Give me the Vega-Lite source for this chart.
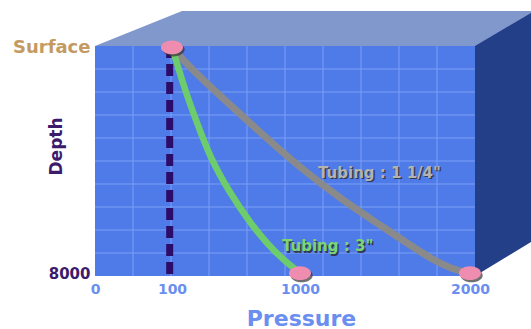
{
  "$schema": "https://vega.github.io/schema/vega-lite/v6.json",
  "autosize": "none",
  "width": 380,
  "height": 230,
  "padding": {"left": 95, "top": 46, "right": 56, "bottom": 53},
  "background": "white",
  "config": {"view": {"stroke": null}, "font": "DejaVu Sans"},
  "datasets": {
    "topface": [
      {"gx": 0, "gy": 0, "gy2": 0},
      {"gx": 2.29, "gy": -1.52, "gy2": 0},
      {"gx": 11.6, "gy": -1.52, "gy2": 0}
    ],
    "rightface": [
      {"gx": 10, "gy": 0, "gy2": 10},
      {"gx": 11.6, "gy": -1.56, "gy2": 8.39}
    ],
    "front": [{"gx": 0, "gx2": 10, "gy": 0, "gy2": 10}],
    "vgrid": [{"gx": 1}, {"gx": 2}, {"gx": 3}, {"gx": 4}, {"gx": 5}, {"gx": 6}, {"gx": 7}, {"gx": 8}, {"gx": 9}],
    "hgrid": [{"gy": 1}, {"gy": 2}, {"gy": 3}, {"gy": 4}, {"gy": 5}, {"gy": 6}, {"gy": 7}, {"gy": 8}, {"gy": 9}],
    "baseline": [{"pressure": 97}],
    "curves": [
      {"tubing": "1 1/4", "pressure": 100, "depth": 0},
      {"tubing": "1 1/4", "pressure": 227, "depth": 730},
      {"tubing": "1 1/4", "pressure": 487, "depth": 1934},
      {"tubing": "1 1/4", "pressure": 740, "depth": 3104},
      {"tubing": "1 1/4", "pressure": 979, "depth": 4167},
      {"tubing": "1 1/4", "pressure": 1247, "depth": 5407},
      {"tubing": "1 1/4", "pressure": 1488, "depth": 6364},
      {"tubing": "1 1/4", "pressure": 1647, "depth": 7002},
      {"tubing": "1 1/4", "pressure": 1782, "depth": 7533},
      {"tubing": "1 1/4", "pressure": 1894, "depth": 7852},
      {"tubing": "1 1/4", "pressure": 2000, "depth": 8000},
      {"tubing": "3", "pressure": 100, "depth": 0},
      {"tubing": "3", "pressure": 128, "depth": 446},
      {"tubing": "3", "pressure": 191, "depth": 1509},
      {"tubing": "3", "pressure": 276, "depth": 2678},
      {"tubing": "3", "pressure": 367, "depth": 3883},
      {"tubing": "3", "pressure": 494, "depth": 5053},
      {"tubing": "3", "pressure": 648, "depth": 6222},
      {"tubing": "3", "pressure": 824, "depth": 7285},
      {"tubing": "3", "pressure": 1000, "depth": 8000}
    ],
    "dots": [
      {"pressure": 100, "depth": 0},
      {"pressure": 1000, "depth": 8000},
      {"pressure": 2000, "depth": 8000}
    ],
    "labels": [
      {"text": "Tubing : 1 1/4\"", "tubing": "1 1/4", "pressure": 1106, "depth": 4450},
      {"text": "Tubing : 3\"", "tubing": "3", "pressure": 873, "depth": 7037}
    ]
  },
  "layer": [
    {
      "layer": [
        {
          "data": {"name": "topface"},
          "mark": {"type": "area", "orient": "vertical", "color": "#8198cc"},
          "encoding": {
            "x": {"field": "gx", "type": "quantitative", "scale": {"domain": [0, 10], "nice": false, "zero": false}, "axis": null},
            "y": {"field": "gy", "type": "quantitative", "scale": {"domain": [0, 10], "nice": false, "zero": false, "reverse": true}, "axis": null},
            "y2": {"field": "gy2"}
          }
        },
        {
          "data": {"name": "rightface"},
          "mark": {"type": "area", "orient": "vertical", "color": "#233f88"},
          "encoding": {
            "x": {"field": "gx", "type": "quantitative", "axis": null},
            "y": {"field": "gy", "type": "quantitative", "axis": null},
            "y2": {"field": "gy2"}
          }
        },
        {
          "data": {"name": "front"},
          "mark": {"type": "rect", "color": "#4f7be9"},
          "encoding": {
            "x": {"field": "gx", "type": "quantitative", "axis": null},
            "x2": {"field": "gx2"},
            "y": {"field": "gy", "type": "quantitative", "axis": null},
            "y2": {"field": "gy2"}
          }
        },
        {
          "data": {"name": "vgrid"},
          "mark": {"type": "rule", "color": "#7d9ff4", "strokeWidth": 1},
          "encoding": {"x": {"field": "gx", "type": "quantitative", "axis": null}}
        },
        {
          "data": {"name": "hgrid"},
          "mark": {"type": "rule", "color": "#7d9ff4", "strokeWidth": 1},
          "encoding": {"y": {"field": "gy", "type": "quantitative", "axis": null}}
        }
      ]
    },
    {
      "layer": [
        {
          "data": {"name": "baseline"},
          "mark": {"type": "rule", "color": "#2d0b68", "strokeWidth": 7, "strokeDash": [12, 6]},
          "encoding": {
            "x": {
              "field": "pressure", "type": "quantitative",
              "scale": {"type": "linear", "domain": [0, 100, 1000, 2000], "range": [0, 77, 205, 375], "nice": false, "zero": false},
              "axis": {
                "orient": "bottom", "values": [0, 100, 1000, 2000], "format": "d",
                "domain": false, "ticks": false, "grid": false,
                "labelPadding": 6, "labelFontSize": 14, "labelFontWeight": "bold", "labelColor": "#6a8ff0",
                "labelFlush": false, "labelOverlap": false,
                "title": "Pressure", "titleFontSize": 22, "titleFontWeight": "bold", "titleColor": "#6a8ff0",
                "titleX": 206, "titleY": 42, "titleAlign": "center", "titleBaseline": "middle"
              }
            }
          }
        },
        {
          "data": {"name": "curves"},
          "transform": [{"filter": "datum.tubing == '1 1/4'"}],
          "mark": {"type": "line", "color": "#8a8a8a", "strokeWidth": 7, "interpolate": "basis", "strokeCap": "round"},
          "encoding": {
            "x": {"field": "pressure", "type": "quantitative"},
            "y": {
              "field": "depth", "type": "quantitative",
              "scale": {"domain": [-50, 8100], "nice": false, "zero": false, "reverse": true},
              "axis": {
                "orient": "left", "values": [0, 8000], "format": "d",
                "labelExpr": "datum.value == 0 ? 'Surface' : datum.label",
                "domain": false, "ticks": false, "grid": false,
                "labelPadding": 5, "labelFontWeight": "bold",
                "labelFontSize": {"condition": {"test": "datum.value == 0", "value": 18}, "value": 15},
                "labelColor": {"condition": {"test": "datum.value == 0", "value": "#c49a63"}, "value": "#3c1a6c"},
                "title": "Depth", "titleFontSize": 17, "titleFontWeight": "bold", "titleColor": "#3c1a6c",
                "titleX": -39, "titleY": 100, "titleAngle": -90, "titleAlign": "center", "titleBaseline": "middle"
              }
            }
          }
        },
        {
          "data": {"name": "curves"},
          "transform": [{"filter": "datum.tubing == '3'"}],
          "mark": {"type": "line", "color": "#6dcc6b", "strokeWidth": 6.5, "interpolate": "basis", "strokeCap": "round"},
          "encoding": {
            "x": {"field": "pressure", "type": "quantitative"},
            "y": {"field": "depth", "type": "quantitative"}
          }
        },
        {
          "data": {"name": "dots"},
          "mark": {"type": "point", "filled": true, "color": "#333333", "opacity": 0.7, "size": 484,
                   "shape": "M-0.85,0.2A1,0.62,0,1,0,1.15,0.2A1,0.62,0,1,0,-0.85,0.2Z"},
          "encoding": {
            "x": {"field": "pressure", "type": "quantitative"},
            "y": {"field": "depth", "type": "quantitative"}
          }
        },
        {
          "data": {"name": "dots"},
          "mark": {"type": "point", "filled": true, "color": "#ef8db0", "opacity": 1, "size": 484,
                   "shape": "M-1,0A1,0.62,0,1,0,1,0A1,0.62,0,1,0,-1,0Z"},
          "encoding": {
            "x": {"field": "pressure", "type": "quantitative"},
            "y": {"field": "depth", "type": "quantitative"}
          }
        },
        {
          "data": {"name": "labels"},
          "mark": {"type": "text", "align": "left", "baseline": "middle", "fontSize": 15, "fontWeight": "bold", "dx": 1.5, "dy": 1.5, "color": "#2a2a2a", "opacity": 0.8},
          "encoding": {
            "x": {"field": "pressure", "type": "quantitative"},
            "y": {"field": "depth", "type": "quantitative"},
            "text": {"field": "text"}
          }
        },
        {
          "data": {"name": "labels"},
          "mark": {"type": "text", "align": "left", "baseline": "middle", "fontSize": 15, "fontWeight": "bold"},
          "encoding": {
            "x": {"field": "pressure", "type": "quantitative"},
            "y": {"field": "depth", "type": "quantitative"},
            "text": {"field": "text"},
            "color": {"field": "tubing", "type": "nominal", "scale": {"domain": ["1 1/4", "3"], "range": ["#b3b3b3", "#7cd473"]}, "legend": null}
          }
        }
      ]
    }
  ],
  "resolve": {"scale": {"x": "independent", "y": "independent"}, "axis": {"x": "independent", "y": "independent"}}
}
